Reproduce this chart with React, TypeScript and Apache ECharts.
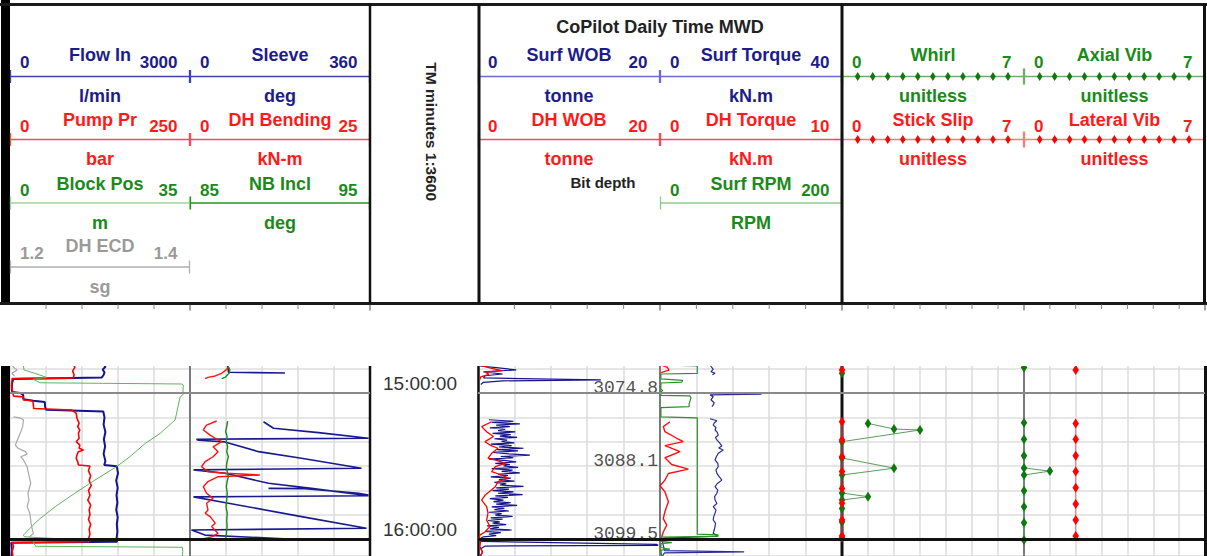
import React, { useEffect, useRef } from 'react';
import * as echarts from 'echarts';

// Time axis: minutes after 14:00 (60 = 15:00, 120 = 16:00)
type Pt = [number, number] | null;

const TIME_MIN = 40;
const TIME_STEP = 10;
const hourTicks = [60, 120];
const hourLabels = ['15:00:00', '16:00:00'];

const bitDepthTimes = [60, 90, 120];
const bitDepthValues = ['3074.8', '3088.1', '3099.5'];

// ---- Track 1, left ----
const flowIn: Pt[] = [
  [48.0, 1560], [49.2, 1590], [50.4, 1545], [51.5, 1575], [52.6, 1560], [53.6, 1530], [54.2, 55],
  [56.0, 35], [58.0, 30], [59.6, 35], [60.0, 170], [60.8, 220], [62.6, 225], [63.2, 390],
  [63.7, 580], [65.6, 585], [66.9, 600], [67.6, 1555], [70.0, 1575], [73.0, 1560], [76.0, 1590],
  [79.0, 1565], [82.0, 1585], [85.0, 1560], [88.0, 1590], [89.6, 1570], [90.1, 1780], [93.0, 1800],
  [96.0, 1770], [99.0, 1795], [102.0, 1775], [105.0, 1790], [108.0, 1770], [111.0, 1795],
  [114.0, 1780], [117.0, 1790], [120.0, 1775], [121.1, 1785], [121.5, 20], [124.0, 30], [127.0, 25],
];

const pumpPr: Pt[] = [
  [48.0, 88], [49.5, 90], [51.0, 87], [52.5, 89], [53.8, 88], [54.1, 3], [57.0, 2], [60.0, 4],
  [61.3, 5], [61.6, 18], [62.9, 19], [63.2, 30], [63.7, 32], [66.4, 33], [67.0, 86], [68.4, 92],
  [70.4, 93], [72.5, 96], [73.8, 94], [75.2, 97], [76.6, 95], [78.6, 96], [80.0, 92], [81.4, 97],
  [82.7, 96], [83.4, 102], [84.1, 95], [85.5, 93], [86.8, 92], [88.2, 94], [89.6, 95], [90.0, 111],
  [92.0, 109], [94.0, 112], [96.0, 110], [98.0, 113], [100.0, 109], [102.0, 111], [104.0, 108],
  [106.0, 112], [108.0, 110], [110.0, 111], [112.0, 109], [114.0, 112], [116.0, 110], [118.0, 111],
  [120.0, 109], [121.1, 110], [121.5, 3], [123.0, 5], [125.0, 3], [127.0, 4],
];

const blockPos: Pt[] = [
  [48.0, 2.6], [50.5, 2.7], [52.6, 5.8], [53.6, 7.1], [54.4, 4.5], [55.8, 5.8], [56.3, 33.4],
  [56.7, 33.7], [60.8, 33.6], [61.5, 33.1], [71.1, 32.1], [76.6, 29.2], [80.7, 26.3], [86.2, 23.3],
  [90.3, 20.7], [95.8, 16.5], [101.2, 12.6], [106.7, 8.8], [112.2, 5.5], [115.6, 3.9], [118.4, 2.6],
  [119.1, 2.8], [120.1, 11.0], [121.1, 4.5], [123.0, 5.0], [123.4, 33.5], [125.0, 33.6], [127.0, 33.5],
];

const dhEcd: Pt[] = [
  [48.0, 1.206], [49.2, 1.203], [50.5, 1.208], [51.9, 1.202], [53.0, 1.205], null,
  [69.8, 1.204], [70.2, 1.211], [71.1, 1.215], [73.8, 1.214], [75.9, 1.212], [78.6, 1.209],
  [81.4, 1.206], [82.7, 1.209], [84.1, 1.217], [85.1, 1.219], [86.2, 1.212], [87.5, 1.215],
  [90.3, 1.219], [93.7, 1.221], [97.1, 1.223], [101.2, 1.220], [104.0, 1.221], [106.7, 1.219],
  [109.4, 1.222], [112.2, 1.223], [114.9, 1.224], [117.7, 1.226], [119.1, 1.222], [120.4, 1.223],
];

// ---- Track 1, right ----
const sleeve: Pt[] = [
  [48.0, 75], [51.5, 77], [51.8, 190], null,
  [71.8, 147], [74.5, 167], [76.3, 257], [78.6, 357], [79.0, 13], [79.4, 17], [80.1, 70],
  [84.1, 137], [86.8, 223], [90.9, 343], [91.6, 7], [93.0, 70], [97.1, 157], [99.2, 243],
  [102.2, 357], [102.7, 7], [105.3, 77], [110.8, 223], [115.6, 353], [116.3, 3], [118.4, 30],
  [120.4, 237], null,
  [99.2, 157], [99.3, 230], [101.2, 337], [101.9, 357],
];

const dhBending: Pt[] = [
  [49.2, 5.3], [50.3, 5.1], [51.9, 4.4], [53.0, 3.5], [53.6, 2.5], [54.1, 2.1], null,
  [71.5, 3.7], [73.2, 2.3], [75.2, 1.85], [77.3, 2.8], [78.6, 3.5], [80.0, 4.4], [82.1, 3.2],
  [84.1, 3.9], [86.2, 3.2], [88.2, 2.1], [90.3, 1.6], [92.3, 2.5], [93.0, 4.9], [93.7, 9.7],
  [94.4, 3.9], [96.4, 2.5], [98.5, 1.85], [101.2, 2.3], [103.3, 3.2], [105.3, 2.3], [108.1, 2.5],
  [109.4, 2.1], [110.8, 2.8], [113.5, 3.5], [114.9, 3.0], [117.7, 3.9], [119.1, 3.0], [120.4, 1.2],
];

const nbIncl: Pt[] = [
  [49.2, 87.13], [50.5, 87.22], [51.9, 87.17], [53.6, 86.94], [54.1, 86.76], null,
  [71.6, 87.09], [73.8, 87.04], [75.9, 86.98], [77.9, 87.06], [80.0, 87.02], [82.1, 87.09],
  [84.1, 87.04], [86.2, 87.13], [88.2, 87.06], [90.3, 87.02], [92.3, 87.07], [94.4, 87.13],
  [96.4, 87.06], [98.5, 87.02], [101.2, 87.07], [104.0, 87.04], [106.7, 87.0], [109.4, 87.07],
  [112.2, 87.04], [114.9, 87.06], [117.7, 87.02], [120.4, 86.98],
];

// ---- Track 2, left ----
const surfWob: Pt[] = [
  [48.9, 0.2], [49.6, 2.0], [50.5, 4.2], [51.3, 0.6], [52.2, 2.7], [52.9, 0.8], [53.8, 0.6],
  [54.3, 8.0], [54.6, 13.5], [55.0, 2.7], [55.6, 0.6], [56.5, 0.3], null,
  [71.0, 1.2], [71.6, 3.9], [72.1, 1.5], [72.7, 4.6], [73.2, 2.0], [73.8, 3.5], [74.3, 1.3],
  [74.9, 3.0], [75.5, 2.2], [76.0, 4.1], [76.6, 1.6], [77.1, 3.6], [77.7, 2.4], [78.2, 4.3],
  [78.8, 1.8], [79.4, 3.2], [79.9, 2.6], [80.5, 4.0], [81.0, 1.4], [81.6, 3.7], [82.2, 2.3],
  [82.7, 5.0], [83.3, 2.1], [83.8, 4.4], [84.4, 1.7], [85.0, 3.4], [85.5, 5.7], [86.1, 2.5],
  [86.6, 3.9], [87.2, 1.2], [87.8, 3.1], [88.3, 4.2], [88.9, 1.9], [89.4, 3.5], [90.0, 2.8],
  [90.6, 4.4], [91.1, 1.5], [91.7, 3.8], [92.2, 2.6], [92.8, 4.6], [93.4, 2.2], [93.9, 3.3],
  [94.5, 1.4], [95.0, 3.6], [95.6, 2.3], [96.2, 4.0], [96.7, 1.8], [97.3, 3.1], [97.8, 2.4],
  [98.4, 5.0], [99.0, 2.0], [99.5, 3.4], [100.1, 1.6], [100.6, 3.9], [101.2, 2.2], [101.8, 4.9],
  [102.3, 1.9], [102.9, 3.3], [103.4, 1.3], [104.0, 2.8], [104.6, 1.7], [105.1, 3.6], [105.7, 2.0],
  [106.2, 4.3], [106.8, 1.5], [107.4, 2.9], [107.9, 1.8], [108.5, 3.4], [109.0, 1.2], [109.6, 2.6],
  [110.2, 1.9], [110.7, 3.8], [111.3, 1.4], [111.8, 2.7], [112.4, 1.1], [113.0, 2.4], [113.5, 1.6],
  [114.1, 3.1], [114.6, 1.0], [115.2, 2.3], [115.8, 1.3], [116.3, 3.7], [116.9, 0.8], [117.4, 2.5],
  [118.0, 1.2], [118.6, 2.0], [119.1, 0.6], [119.7, 0.3], [120.3, 0.2], [121.0, 0.4], [121.6, 10.0],
  [122.2, 19.6], [122.6, 19.8], [122.9, 0.8], [124.0, 0.3], [125.2, 0.5], [127.0, 0.3],
];

const dhWob: Pt[] = [
  [48.9, 0.5], [49.8, 1.4], [50.8, 2.6], [51.4, 0.8], [52.3, 1.2], [53.4, 0.3], [54.5, 0.2], null,
  [71.8, 1.5], [73.8, 0.4], [75.9, 0.95], [77.9, 1.7], [80.0, 0.77], [81.4, 1.3], [82.7, 2.2],
  [84.8, 1.5], [86.8, 1.1], [87.5, 1.9], [88.9, 3.0], [90.3, 1.9], [92.3, 1.5], [93.7, 2.6],
  [95.0, 3.3], [96.4, 2.2], [98.5, 1.9], [99.8, 1.5], [101.9, 0.8], [104.0, 0.4], [106.7, 0.95],
  [109.4, 1.1], [112.2, 0.95], [114.9, 1.3], [117.0, 0.8], [118.4, 0.2], [120.0, 0.1],
  [121.0, 0.3], [123.0, 0.2], [125.5, 0.5], [127.0, 0.2],
];

// ---- Track 2, right ----
const surfTorque: Pt[] = [
  [48.5, 11.0], [50.3, 11.7], [51.2, 11.2], [51.9, 12.1], [52.5, 11.5], null,
  [60.2, 11.0], [60.5, 22.3], [60.8, 11.0], [61.5, 11.7], [62.8, 11.2], [64.0, 11.9], [64.9, 11.7],
  [65.6, 11.4], null,
  [70.6, 11.0], [71.4, 12.5], [72.3, 11.9], [73.2, 11.7], [74.2, 12.3], [75.2, 12.1], [76.2, 12.6],
  [77.3, 12.8], [78.3, 12.2], [79.3, 12.5], [80.5, 13.1], [81.8, 13.6], [82.6, 12.9], [83.4, 13.9],
  [84.8, 12.8], [86.1, 12.4], [87.5, 12.1], [88.9, 12.7], [90.3, 12.8], [91.6, 12.3], [93.0, 12.5],
  [94.4, 13.0], [95.8, 13.6], [97.2, 12.6], [98.5, 12.1], [99.9, 12.7], [101.2, 12.5], [102.6, 12.0],
  [104.0, 12.1], [105.4, 12.5], [106.7, 11.7], [108.1, 12.3], [109.4, 12.1], [110.8, 11.8],
  [112.2, 11.7], [113.5, 12.2], [114.9, 12.1], [116.3, 11.9], [117.7, 11.7], [118.8, 12.8],
  [119.6, 1.0], [121.0, 0.5], [124.8, 1.0], [125.3, 18.5], [125.7, 1.0], [127.0, 0.5],
];

const dhTorque: Pt[] = [
  [48.5, 0.1], [49.5, 0.4], [50.6, 0.5], [51.6, 0.05], null,
  [71.8, 0.55], [73.8, 0.18], [75.9, 0.27], [78.6, 0.92], [80.0, 1.28], [81.6, 0.27], [84.1, 1.1],
  [86.6, 0.27], [89.4, 0.64], [91.3, 1.56], [93.1, 0.46], [95.8, 0.27], [98.1, 0.0], [100.6, 0.27],
  [104.7, 0.46], [108.8, 0.27], [111.6, 0.18], [114.3, 0.37], [117.1, 0.18], [119.2, 0.09],
];

const surfRpm: Pt[] = [
  [48.5, 1], [48.9, 41], [51.9, 41], [52.2, 1], [54.2, 1], [54.8, 25], [55.5, 24], [55.9, 1],
  [58.5, 1], [59.0, 3], [59.6, 1], [61.0, 1], [61.2, 33], [62.0, 34], [64.5, 32], [65.6, 32],
  [66.0, 1], [69.8, 1], [70.2, 41], [118.0, 41], [118.3, 64], [118.9, 62], [119.2, 1], [121.0, 1],
  [121.5, 13], [121.9, 1], [123.5, 1], [124.2, 11], [124.6, 1], [127.0, 2],
];

// ---- Track 3 ----
const whirl: Pt[] = [
  [51.9, 0], null,
  [72.5, 1], [74.8, 2], [75.2, 3], [80.0, 0], null,
  [86.7, 0], [90.9, 2], [93.7, 0], null,
  [101.1, 0], [102.6, 1], [104.0, 0], null,
  [107.5, 0], null, [113.0, 0], null, [119.5, 0],
];

const stickSlip: Pt[] = [
  [50.5, 0], null,
  [71.8, 0], [79.3, 0], [86.2, 0], [92.3, 0], [99.2, 0], [105.3, 0], [112.2, 0], [118.8, 0],
];

const axialVib: Pt[] = [
  [49.5, 0], null,
  [72.2, 0], [79.0, 0], [85.8, 0], [90.8, 0], [92.1, 1], [93.7, 0], [100.2, 0], [106.7, 0],
  [113.3, 0], [120.4, 0],
];

const lateralVib: Pt[] = [
  [50.5, 2], null,
  [72.5, 2], [79.0, 2], [85.8, 2], [92.3, 2], [98.9, 2], [105.6, 2], [112.2, 2], [118.8, 2],
];

// Curve definitions: pane = sub-track, row = header scale row
const curveDefs = [
  { name: 'Flow In', unit: 'l/min', pane: 0, row: 0, min: 0, max: 3000, data: flowIn },
  { name: 'Pump Pr', unit: 'bar', pane: 0, row: 1, min: 0, max: 250, data: pumpPr },
  { name: 'Block Pos', unit: 'm', pane: 0, row: 2, min: 0, max: 35, data: blockPos },
  { name: 'DH ECD', unit: 'sg', pane: 0, row: 3, min: 1.2, max: 1.4, data: dhEcd },
  { name: 'Sleeve', unit: 'deg', pane: 1, row: 0, min: 0, max: 360, data: sleeve },
  { name: 'DH Bending', unit: 'kN-m', pane: 1, row: 1, min: 0, max: 25, data: dhBending },
  { name: 'NB Incl', unit: 'deg', pane: 1, row: 2, min: 85, max: 95, data: nbIncl },
  { name: 'Surf WOB', unit: 'tonne', pane: 2, row: 0, min: 0, max: 20, data: surfWob },
  { name: 'DH WOB', unit: 'tonne', pane: 2, row: 1, min: 0, max: 20, data: dhWob },
  { name: 'Surf Torque', unit: 'kN.m', pane: 3, row: 0, min: 0, max: 40, data: surfTorque },
  { name: 'DH Torque', unit: 'kN.m', pane: 3, row: 1, min: 0, max: 10, data: dhTorque },
  { name: 'Surf RPM', unit: 'RPM', pane: 3, row: 2, min: 0, max: 200, data: surfRpm },
  { name: 'Whirl', unit: 'unitless', pane: 4, row: 0, min: 0, max: 7, data: whirl },
  { name: 'Stick Slip', unit: 'unitless', pane: 4, row: 1, min: 0, max: 7, data: stickSlip },
  { name: 'Axial Vib', unit: 'unitless', pane: 5, row: 0, min: 0, max: 7, data: axialVib },
  { name: 'Lateral Vib', unit: 'unitless', pane: 5, row: 1, min: 0, max: 7, data: lateralVib },
];

const NAVY = '#1c1c8c';
const RED = '#ff1a1a';
const GREEN = '#1a8a1a';
const GRAY = '#9a9a9a';

// Styles: text colour, header line colour, curve colour, curve width, marker colour
const curveStyle: Record<string, { text: string; head: string; line: string; width: number; marker?: string }> = {
  'Flow In': { text: NAVY, head: '#4040b4', line: '#14148c', width: 2 },
  'Pump Pr': { text: RED, head: '#ff4a4a', line: '#ff0000', width: 1.6 },
  'Block Pos': { text: GREEN, head: '#9cd49c', line: '#5fb35f', width: 1 },
  'DH ECD': { text: GRAY, head: '#b0b0b0', line: '#a8a8a8', width: 1.2 },
  'Sleeve': { text: NAVY, head: '#4040b4', line: '#1a1a8f', width: 1.6 },
  'DH Bending': { text: RED, head: '#ff4a4a', line: '#ff1010', width: 1.4 },
  'NB Incl': { text: GREEN, head: '#2a8f2a', line: '#1a8a1a', width: 1.4 },
  'Surf WOB': { text: NAVY, head: '#6a6ad0', line: '#15158c', width: 1.2 },
  'DH WOB': { text: RED, head: '#ff4a4a', line: '#ff0000', width: 1.3 },
  'Surf Torque': { text: NAVY, head: '#6a6ad0', line: '#2a2a9a', width: 1.2 },
  'DH Torque': { text: RED, head: '#ff4a4a', line: '#ff1010', width: 1.4 },
  'Surf RPM': { text: GREEN, head: '#8ccb8c', line: '#2e8f2e', width: 1.2 },
  'Whirl': { text: GREEN, head: '#6aae6a', line: '#5c9c5c', width: 1, marker: '#0f780f' },
  'Stick Slip': { text: RED, head: '#ff7a7a', line: '#ff6666', width: 1, marker: '#ff0000' },
  'Axial Vib': { text: GREEN, head: '#6aae6a', line: '#5c9c5c', width: 1, marker: '#0f780f' },
  'Lateral Vib': { text: RED, head: '#ff7a7a', line: '#ff6666', width: 1, marker: '#ff0000' },
};

// Layout
const W = 1207;
const H = 556;
const PX_PER_MIN = 146 / 60;
const Y_HOUR15 = 393;
const GRID_TOP = Y_HOUR15 - (60 - TIME_MIN) * PX_PER_MIN;
const GRID_H = H - GRID_TOP;
const TIME_MAX = TIME_MIN + GRID_H / PX_PER_MIN;
const panes = [
  { x: 10, w: 180, div: 5 },
  { x: 190, w: 180, div: 5 },
  { x: 478, w: 182, div: 5 },
  { x: 660, w: 182, div: 5 },
  { x: 842, w: 182, div: 7 },
  { x: 1024, w: 181, div: 7 },
];
const depthPane = { x: 371, w: 107 };
const HEADER_BOTTOM = 303.5;
const LOWER_TOP = 366;

const FONT = '"Liberation Sans", Arial, Helvetica, sans-serif';
const rowY = {
  name: [55, 120, 184, 246],
  num: [62.7, 126, 190, 253],
  line: [76.5, 139.5, 203, 267],
  unit: [96, 159, 223, 287],
};

function txt(text: string, x: number, y: number, fill: string, size: number, align = 'center', weight = 'bold', extra: any = {}) {
  return {
    type: 'text',
    x,
    y,
    z: 60,
    silent: true,
    ...extra,
    style: {
      text,
      fill,
      font: `${weight} ${size}px ${FONT}`,
      align,
      verticalAlign: 'middle',
      textAlign: align,
      textVerticalAlign: 'middle',
    },
  };
}

function seg(x1: number, y1: number, x2: number, y2: number, stroke: string, lineWidth: number, z = 60) {
  return { type: 'line', z, silent: true, shape: { x1, y1, x2, y2 }, style: { stroke, lineWidth } };
}

function diamond(cx: number, cy: number, fill: string) {
  return {
    type: 'polygon',
    z: 61,
    silent: true,
    shape: { points: [[cx, cy - 4.5], [cx + 2.8, cy], [cx, cy + 4.5], [cx - 2.8, cy]] },
    style: { fill },
  };
}

function buildHeader(): any[] {
  const els: any[] = [];
  // outer frame
  els.push({ type: 'rect', z: 60, silent: true, shape: { x: 0, y: 3, width: W, height: 3 }, style: { fill: '#1a1a1a' } });
  els.push({ type: 'rect', z: 60, silent: true, shape: { x: 0, y: HEADER_BOTTOM - 1.5, width: W, height: 3 }, style: { fill: '#1a1a1a' } });
  els.push(seg(370, 4, 370, HEADER_BOTTOM, '#111', 2.5));
  els.push(seg(479, 4, 479, HEADER_BOTTOM, '#111', 3));
  els.push(seg(842, 4, 842, HEADER_BOTTOM, '#111', 3));
  els.push(seg(1204.5, 4, 1204.5, HEADER_BOTTOM, '#111', 3));

  // small division ticks under the header frame
  panes.forEach((p) => {
    for (let k = 1; k <= p.div; k++) {
      const x = p.x + (k * p.w) / p.div;
      const isEdge = k === p.div;
      els.push(seg(x, HEADER_BOTTOM + 1, x, HEADER_BOTTOM + (isEdge ? 7 : 5.5), isEdge ? '#444' : '#888', 1));
    }
  });

  // titles
  els.push(txt('CoPilot Daily Time MWD', 660, 27.3, '#222', 18));
  els.push(txt('TM minutes 1:3600', 431, 131.7, '#222', 15.5, 'center', 'bold', { rotation: -Math.PI / 2 }));
  els.push(txt('Bit depth', 603, 182, '#222', 15));

  // scale legends
  curveDefs.forEach((c) => {
    const p = panes[c.pane];
    const st = curveStyle[c.name];
    const x0 = p.x;
    const x1 = p.x + p.w;
    const cx = (x0 + x1) / 2;
    const ly = rowY.line[c.row];
    els.push(txt(c.name, cx, rowY.name[c.row], st.text, 18));
    els.push(txt(String(c.min), x0 + 10, rowY.num[c.row], st.text, 17, 'left'));
    els.push(txt(String(c.max), x1 - 12.5, rowY.num[c.row], st.text, 17, 'right'));
    els.push(txt(c.unit, cx, rowY.unit[c.row], st.text, 18));
    els.push(seg(x0, ly, x1, ly, st.head, 1.3, 59));
    const tick = st.marker ? 8 : 6.5;
    els.push(seg(x0 + 0.5, ly - tick, x0 + 0.5, ly + tick, st.head, 1.3, 59));
    els.push(seg(x1 - 0.5, ly - tick, x1 - 0.5, ly + tick, st.head, 1.3, 59));
    if (st.marker) {
      const n = 11;
      const a = x0 + 15.7;
      const b = x1 - 16;
      for (let k = 0; k < n; k++) els.push(diamond(a + ((b - a) * k) / (n - 1), ly, st.marker));
    }
  });
  return els;
}

function buildLowerFrame(): any[] {
  const els: any[] = [];
  const y0 = LOWER_TOP - 2;
  // thick bar at the far left, full height (gap is masked)
  els.push({ type: 'rect', z: 12, silent: true, shape: { x: 1, y: 0, width: 9, height: H }, style: { fill: '#000' } });
  els.push(seg(370, y0, 370, H, '#111', 2.5, 1));
  els.push(seg(478.5, y0, 478.5, H, '#111', 2.5, 1));
  els.push(seg(842, y0, 842, H, '#111', 3, 1));
  els.push(seg(1205.5, y0, 1205.5, H, '#111', 3, 1));
  [190, 660, 1024].forEach((x) => els.push(seg(x, y0, x, H, '#7a7a7a', 2, 1)));
  // white gap between the header block and the log body
  els.push({ type: 'rect', z: 50, silent: true, shape: { x: 0, y: HEADER_BOTTOM + 1.5, width: W, height: LOWER_TOP - HEADER_BOTTOM - 1.5 }, style: { fill: '#fff' } });
  return els;
}

const toXY = (pts: Pt[]) => pts.map((p) => (p ? [p[1], p[0]] : ['-', '-']));

function buildOption(): any {
  const grid: any[] = panes.map((p) => ({ left: p.x, top: GRID_TOP, width: p.w, height: GRID_H, show: false }));
  grid.push({ left: depthPane.x, top: GRID_TOP, width: depthPane.w, height: GRID_H, show: false });

  const gridLine = { show: true, lineStyle: { color: '#dedede', width: 1.6 } };

  const xAxis: any[] = panes.map((p, i) => ({
    gridIndex: i,
    type: 'value',
    min: 0,
    max: p.div,
    interval: 1,
    axisLine: { show: false },
    axisTick: { show: false },
    axisLabel: { show: false },
    splitLine: gridLine,
  }));
  xAxis.push({ gridIndex: 6, type: 'value', min: 0, max: 1, show: false });
  const curveAxisBase = xAxis.length;
  curveDefs.forEach((c) => {
    xAxis.push({ gridIndex: c.pane, type: 'value', min: c.min, max: c.max, show: false });
  });

  const yAxis: any[] = [];
  for (let i = 0; i < 7; i++) {
    yAxis.push({
      gridIndex: i,
      type: 'value',
      inverse: true,
      min: TIME_MIN,
      max: TIME_MAX,
      interval: TIME_STEP,
      axisLine: { show: false },
      axisTick: { show: false },
      splitLine: i < 6 ? gridLine : { show: false },
      axisLabel:
        i === 6
          ? {
              show: true,
              inside: true,
              margin: 12,
              color: '#333',
              fontSize: 19,
              fontFamily: FONT,
              verticalAlign: 'bottom',
              formatter: (v: number) => {
                const k = hourTicks.indexOf(v);
                return k >= 0 ? hourLabels[k] : '';
              },
            }
          : { show: false },
    });
  }

  const series: any[] = [];
  curveDefs.forEach((c, idx) => {
    const st = curveStyle[c.name];
    series.push({
      name: c.name,
      type: 'line',
      xAxisIndex: curveAxisBase + idx,
      yAxisIndex: c.pane,
      data: toXY(c.data),
      z: st.marker ? 3 : 2,
      silent: true,
      clip: true,
      connectNulls: false,
      showSymbol: !!st.marker,
      showAllSymbol: true,
      symbol: st.marker ? 'diamond' : 'none',
      symbolSize: [6.5, 10],
      itemStyle: { color: st.marker || st.line },
      lineStyle: { color: st.line, width: st.width },
    });
  });

  // hour lines (15:00 grey, 16:00 black) in every track
  panes.forEach((_, i) => {
    series.push({
      type: 'line',
      xAxisIndex: i,
      yAxisIndex: i,
      data: [[0, 0]],
      symbol: 'none',
      silent: true,
      z: 4,
      lineStyle: { width: 0 },
      markLine: {
        silent: true,
        symbol: ['none', 'none'],
        label: { show: false },
        data: [
          { yAxis: hourTicks[0], lineStyle: { color: '#8a8a8a', width: 2, type: 'solid' } },
          { yAxis: hourTicks[1], lineStyle: { color: '#111', width: 3, type: 'solid' } },
        ],
      },
    });
  });

  // bit depth readings at the right edge of track 2 left half
  series.push({
    type: 'scatter',
    xAxisIndex: 2,
    yAxisIndex: 2,
    z: 3,
    silent: true,
    symbolSize: 0,
    data: bitDepthTimes.map((t, i) => [panes[2].div, t, i]),
    label: {
      show: true,
      position: 'left',
      distance: 2,
      offset: [0, -5],
      formatter: (p: any) => bitDepthValues[p.value[2]],
      fontFamily: '"Liberation Mono", "DejaVu Sans Mono", monospace',
      fontSize: 18,
      color: '#222',
    },
  });

  return {
    animation: false,
    backgroundColor: '#fff',
    grid,
    xAxis,
    yAxis,
    series,
    graphic: { elements: [...buildLowerFrame(), ...buildHeader()] },
  };
}

export default function App() {
  const ref = useRef<HTMLDivElement>(null);
  useEffect(() => {
    document.body.style.margin = '0';
    if (!ref.current) return;
    const chart = echarts.init(ref.current, undefined, { renderer: 'svg' });
    chart.setOption(buildOption());
    return () => chart.dispose();
  }, []);
  return <div ref={ref} style={{ width: W, height: H, overflow: 'hidden' }} />;
}
